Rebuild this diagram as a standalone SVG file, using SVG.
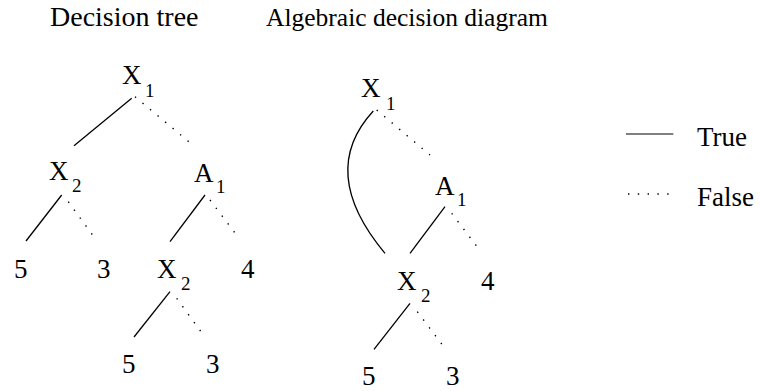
<svg xmlns="http://www.w3.org/2000/svg" width="760" height="391" viewBox="0 0 760 391">
<defs>
<style>
text{font-family:'Liberation Serif','Times New Roman',serif;fill:#000}
.l{font-size:27px}
.s{font-size:19px}
.sol{stroke:#000;stroke-width:1.3;fill:none}
.dot{stroke:#000;stroke-width:1.4;fill:none;stroke-dasharray:1.4 8.4}
</style>
</defs>
<rect width="760" height="391" fill="#fff"/>
<g id="titles">
<text x="50" y="26" font-size="28">Decision tree</text>
<text x="266" y="26" font-size="25.5">Algebraic decision diagram</text>
</g>
<g id="connectors">
<line class="sol" x1="131.7" y1="98.3" x2="74" y2="145.7"/>
<line class="dot" x1="135" y1="96.7" x2="190" y2="142.7"/>
<line class="sol" x1="61.7" y1="195" x2="26" y2="241"/>
<line class="dot" x1="68.3" y1="201.7" x2="93.3" y2="236"/>
<line class="sol" x1="205" y1="195" x2="170" y2="241.7"/>
<line class="dot" x1="210" y1="200" x2="237.3" y2="236"/>
<line class="sol" x1="170" y1="291.7" x2="134" y2="337"/>
<line class="dot" x1="176.7" y1="298.3" x2="201.7" y2="332.7"/>
<path class="sol" d="M373.3 111 Q317 172 385 253.3"/>
<line class="dot" x1="376.7" y1="110" x2="430" y2="155"/>
<line class="sol" x1="445" y1="206.7" x2="410" y2="253.3"/>
<line class="dot" x1="451.7" y1="213.3" x2="478.3" y2="248.3"/>
<line class="sol" x1="410" y1="303.3" x2="374" y2="349.3"/>
<line class="dot" x1="417.3" y1="311.7" x2="441.7" y2="344"/>
</g>
<g id="t-x1"><text class="l" x="122" y="84">X</text><text class="s" x="145" y="97">1</text></g>
<g id="t-x2a"><text class="l" x="49" y="180">X</text><text class="s" x="72" y="192">2</text></g>
<g id="t-a1"><text class="l" x="194" y="182">A</text><text class="s" x="216" y="193">1</text></g>
<g id="t-5a"><text class="l" x="14" y="278">5</text></g>
<g id="t-3a"><text class="l" x="97" y="278">3</text></g>
<g id="t-x2b"><text class="l" x="157" y="278">X</text><text class="s" x="181" y="290">2</text></g>
<g id="t-4"><text class="l" x="241" y="278">4</text></g>
<g id="t-5b"><text class="l" x="122" y="373">5</text></g>
<g id="t-3b"><text class="l" x="206" y="373">3</text></g>
<g id="d-x1"><text class="l" x="361" y="97">X</text><text class="s" x="386" y="110">1</text></g>
<g id="d-a1"><text class="l" x="435" y="195">A</text><text class="s" x="457" y="206">1</text></g>
<g id="d-x2"><text class="l" x="397" y="290">X</text><text class="s" x="421" y="302">2</text></g>
<g id="d-4"><text class="l" x="481" y="290">4</text></g>
<g id="d-5"><text class="l" x="362" y="385">5</text></g>
<g id="d-3"><text class="l" x="446" y="385">3</text></g>
<g id="legend">
<line x1="626" y1="134" x2="673.3" y2="134" stroke="#555" stroke-width="1.6"/>
<text class="l" x="697" y="146">True</text>
<line class="dot" x1="628" y1="194" x2="672" y2="194"/>
<text class="l" x="697" y="206">False</text>
</g>
</svg>
